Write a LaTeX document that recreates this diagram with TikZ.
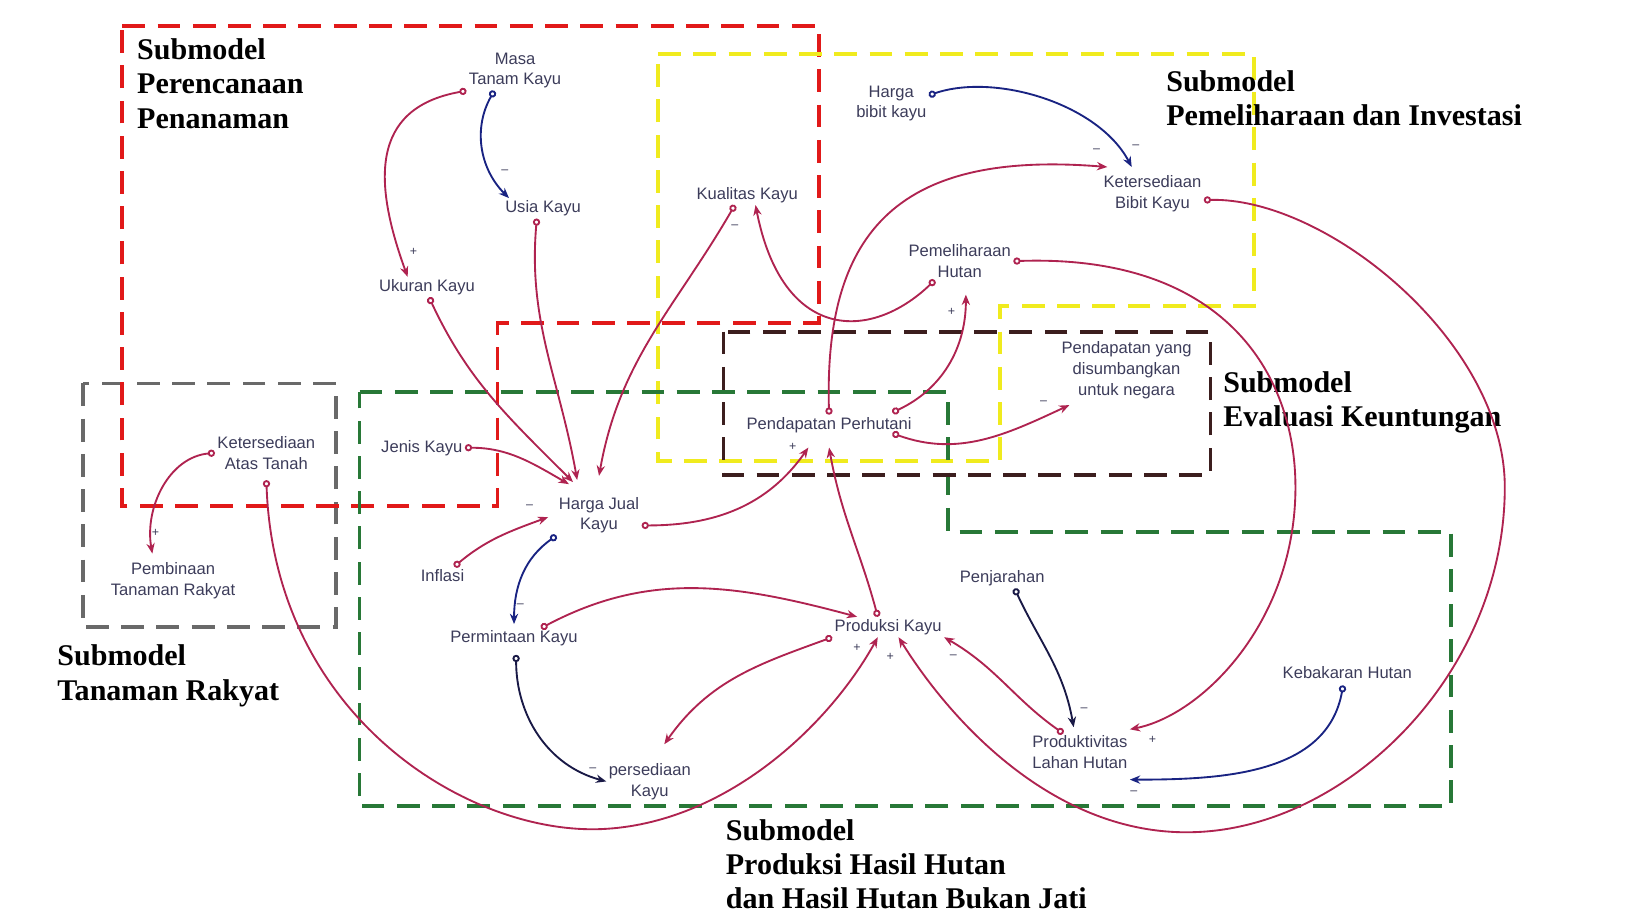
\documentclass[tikz,border=0pt]{standalone}
\usepackage{fontspec}
\setmainfont{Liberation Serif}
\newfontfamily\lblfont{Liberation Sans}
\usetikzlibrary{arrows.meta}
\definecolor{linkred}{RGB}{175,35,80}
\definecolor{linkblue}{RGB}{25,35,130}
\definecolor{linkdark}{RGB}{25,25,70}
\definecolor{lblcol}{RGB}{60,60,90}
\definecolor{zred}{RGB}{225,25,25}
\definecolor{zyellow}{RGB}{240,235,30}
\definecolor{zdark}{RGB}{60,30,30}
\definecolor{zgrey}{RGB}{105,105,105}
\definecolor{zgreen}{RGB}{40,120,55}

\begin{document}
\begin{tikzpicture}[x=0.5pt,y=-0.5pt,
		lbl/.style={font=\lblfont\fontsize{8}{10}\selectfont,text=lblcol,align=center,inner sep=1pt},
		ttl/.style={font=\bfseries\fontsize{14.5}{16.5}\selectfont,align=left,anchor=north west,inner sep=0pt},
		sgn/.style={font=\lblfont\fontsize{6}{6}\selectfont,text=lblcol,inner sep=0pt},
		zone/.style={line width=1.8pt,dash pattern=on 11pt off 6pt},
		link/.style={draw=linkred,line width=0.9pt,{Circle[open,length=3.5pt,width=3.5pt]}-{Stealth[length=5pt,width=4pt]}},
		blink/.style={link,draw=linkblue},
		klink/.style={link,draw=linkdark}]
		\useasboundingbox (0,0) rectangle (1568,891);
		% submodel zones
		\draw[zone,draw=zgrey] (80,370) rectangle (324,605);
		\draw[zone,draw=zred] (118,25) -- (790,25) -- (790,312) -- (480,312) -- (480,488) -- (118,488) -- cycle;
		\draw[zone,draw=zyellow] (635,52) -- (1210,52) -- (1210,295) -- (965,295) -- (965,445) -- (635,445) -- cycle;
		\draw[zone,draw=zgreen] (347,378) -- (915,378) -- (915,513) -- (1400,513) -- (1400,778) -- (347,778) -- cycle;
		\draw[zone,draw=zdark] (698,320) rectangle (1168,458);
		% titles
		\node[ttl] (tplan) at (132,37) {Submodel\\Perencanaan\\Penanaman};
		\node[ttl] (tpelihara) at (1125,68) {Submodel\\Pemeliharaan dan Investasi};
		\node[ttl] (tevaluasi) at (1180,358) {Submodel\\Evaluasi Keuntungan};
		\node[ttl] (trakyat) at (55,622) {Submodel\\Tanaman Rakyat};
		\node[ttl] (tproduksi) at (700,790) {Submodel\\Produksi Hasil Hutan\\dan Hasil Hutan Bukan Jati};
		% variables
		\node[lbl] (masa) at (497,68) {Masa\\Tanam Kayu};
		\node[lbl] (usia) at (524,201) {Usia Kayu};
		\node[lbl] (ukuran) at (412,277) {Ukuran Kayu};
		\node[lbl] (kualitas) at (721,188) {Kualitas Kayu};
		\node[lbl] (hbibit) at (860,100) {Harga\\bibit kayu};
		\node[lbl] (ketbibit) at (1112,187) {Ketersediaan\\Bibit Kayu};
		\node[lbl] (pelihara) at (926,252) {Pemeliharaan\\Hutan};
		\node[lbl] (pnegara) at (1087,357) {Pendapatan yang\\disumbangkan\\untuk negara};
		\node[lbl] (pperhutani) at (800,410) {Pendapatan Perhutani};
		\node[lbl] (jenis) at (407,432) {Jenis Kayu};
		\node[lbl] (ketatas) at (257,437) {Ketersediaan\\Atas Tanah};
		\node[lbl] (pembinaan) at (167,560) {Pembinaan\\Tanaman Rakyat};
		\node[lbl] (hjual) at (578,497) {Harga Jual\\Kayu};
		\node[lbl] (inflasi) at (427,555) {Inflasi};
		\node[lbl] (permintaan) at (496,616) {Permintaan Kayu};
		\node[lbl] (produksi) at (857,605) {Produksi Kayu};
		\node[lbl] (persediaan) at (627,754) {persediaan\\Kayu};
		\node[lbl] (penjarahan) at (967,558) {Penjarahan};
		\node[lbl] (kebakaran) at (1300,649) {Kebakaran Hutan};
		\node[lbl] (produktivitas) at (1042,726) {Produktivitas\\Lahan Hutan};
		% links
		\draw[blink] ([xshift=-10pt]masa.south) to[out=240,in=135] ([xshift=3pt]usia.north west);
		\draw[link] (masa.south west) to[out=190,in=110,looseness=1.3] ([xshift=15pt]ukuran.north west);
		\draw[link] ([xshift=-3pt]usia.south) to[out=-95,in=100] ([xshift=10pt,yshift=7pt]hjual.north west);
		\draw[link] ([xshift=1pt]ukuran.south) to[out=-65,in=135] ([xshift=8pt,yshift=6pt]hjual.north west);
		\draw[link] (jenis.east) to[out=0,in=150] ([xshift=6pt,yshift=5pt]hjual.north west);
		\draw[link] ([xshift=-6pt]kualitas.south) to[out=-120,in=80] ([yshift=9pt]hjual.north);
		\draw[link] ([xshift=-12pt]pelihara.south) .. controls (840,330) and (755,330) .. ([xshift=4pt]kualitas.south);
		\draw[blink] ([yshift=4pt]hbibit.east) .. controls (960,70) and (1060,100) .. ([xshift=-10pt,yshift=3pt]ketbibit.north);
		\draw[link] (pperhutani.north) .. controls (795,220) and (870,145) .. ([xshift=3pt,yshift=3pt]ketbibit.north west);
		\draw[link] ([yshift=-3pt]ketbibit.east) .. controls (1280,190) and (1452,330) .. (1452,470) .. controls (1452,650) and (1300,800) .. (1150,803) .. controls (1020,806) and (920,700) .. ([xshift=5pt]produksi.south);
		\draw[link] (pelihara.east) .. controls (1180,245) and (1250,360) .. (1250,470) .. controls (1250,600) and (1160,690) .. ([yshift=2pt]produktivitas.north east);
		\draw[link] ([xshift=-10.5pt,yshift=6pt]pperhutani.east) to[out=25,in=-90] ([xshift=3pt,yshift=-7pt]pelihara.south);
		\draw[link] ([xshift=-10.5pt,yshift=-4pt]pperhutani.east) to[out=-20,in=205] ([xshift=5pt,yshift=-2pt]pnegara.south west);
		\draw[link] ([yshift=-5pt]hjual.east) to[out=0,in=235] ([xshift=-10pt,yshift=-6pt]pperhutani.south);
		\draw[link] ([xshift=-5pt]produksi.north) to[out=105,in=-80] ([yshift=-6pt]pperhutani.south);
		\draw[link] ([xshift=13pt]permintaan.north) to[out=28,in=165] ([xshift=12pt]produksi.north west);
		\draw[link] (produksi.south west) to[out=200,in=55] ([xshift=7pt,yshift=8pt]persediaan.north);
		\draw[klink] ([xshift=1pt,yshift=-3pt]permintaan.south) to[out=-90,in=165] (persediaan.west);
		\draw[blink] (hjual.south west) to[out=215,in=90] ([yshift=2pt]permintaan.north);
		\draw[link] ([xshift=-6pt]inflasi.north east) to[out=40,in=200] ([xshift=-4pt,yshift=-1pt]hjual.west);
		\draw[link] (ketatas.west) to[out=185,in=100] ([xshift=-10pt,yshift=3pt]pembinaan.north);
		\draw[link] ([yshift=-4pt]ketatas.south) .. controls (265,690) and (450,805) .. (580,800) .. controls (700,795) and (800,700) .. ([xshift=-5pt]produksi.south);
		\draw[klink] ([xshift=6pt]penjarahan.south) to[out=-65,in=100] ([xshift=-3pt,yshift=3pt]produktivitas.north);
		\draw[blink] ([xshift=-2pt,yshift=-2pt]kebakaran.south) to[out=-100,in=0] ([yshift=-4pt]produktivitas.south east);
		\draw[link] ([xshift=-8pt]produktivitas.north) to[out=145,in=-30] (produksi.south east);
		% polarity signs
		\foreach \x/\y/\s [count=\i] in {487/166/–,399/243/+,1096/142/–,1058/145/–,918/301/+,709/219/–,
				1007/389/–,765/431/+,150/514/+,502/584/–,572/743/–,1112/714/+,1046/685/–,1094/765/–,
				920/634/–,827/625/+,859/634/+,511/489/–}
			\node[sgn] (s\i) at (\x,\y) {\s};
	\end{tikzpicture}
\end{document}
